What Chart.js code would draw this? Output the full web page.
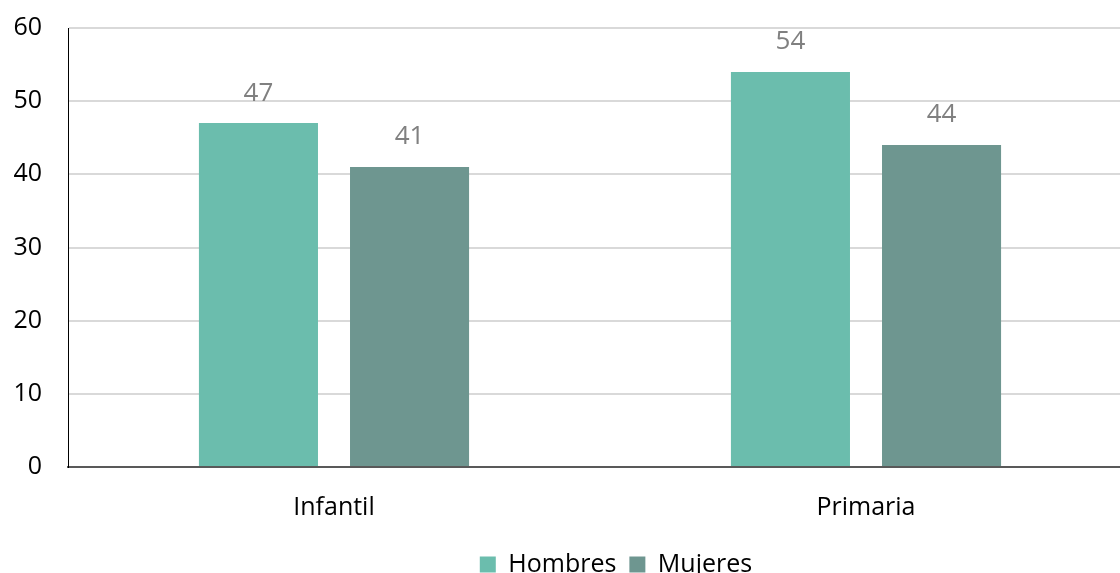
<!DOCTYPE html>
<html>
<head>
<meta charset="utf-8">
<script src="https://cdn.jsdelivr.net/npm/chart.js@4"></script>
<style>
  html, body { margin: 0; padding: 0; background: #fff; overflow: hidden; }
  #wrap { position: absolute; left: 0; top: -13px; width: 1132px; height: 600px; }
</style>
</head>
<body>
<div id="wrap"><canvas id="chart"></canvas></div>
<script>
const categories = ['Infantil', 'Primaria'];
const hombres = [47, 54];
const mujeres = [41, 44];
const yTicks = [0, 10, 20, 30, 40, 50, 60];

const FONT = '"Open Sans", sans-serif';

// value labels above each bar
const valueLabels = {
    id: 'valueLabels',
    afterDatasetsDraw(chart) {
        const c = chart.ctx;
        c.save();
        c.font = '26px ' + FONT;
        c.fillStyle = '#808080';
        c.textAlign = 'center';
        c.textBaseline = 'middle';
        chart.data.datasets.forEach((ds, i) => {
            chart.getDatasetMeta(i).data.forEach((bar, j) => {
                c.fillText(ds.data[j], bar.x, bar.y - 30);
            });
        });
        c.restore();
    }
};

// nudge legend right to sit where the original one does
const legendShift = {
    id: 'legendShift',
    afterLayout(chart) {
        chart.legend.left += 50;
        chart.legend.right += 50;
    }
};

new Chart(document.getElementById('chart'), {
    type: 'bar',
    data: {
        labels: categories,
        datasets: [
            { label: 'Hombres', data: hombres, backgroundColor: '#6bbdad' },
            { label: 'Mujeres', data: mujeres, backgroundColor: '#6e9690' }
        ]
    },
    options: {
        responsive: true,
        maintainAspectRatio: false,
        animation: false,
        categoryPercentage: 0.568,
        barPercentage: 0.788,
        layout: { padding: 0 },
        plugins: {
            tooltip: { enabled: false },
            legend: {
                position: 'bottom',
                labels: {
                    color: '#000',
                    font: { size: 25, family: FONT },
                    boxWidth: 16,
                    boxHeight: 16,
                    padding: 13
                }
            }
        },
        scales: {
            x: {
                grid: { display: false },
                border: { color: '#595959', width: 2 },
                ticks: { color: '#000', font: { size: 25, family: FONT }, padding: 18 },
                afterFit: (s) => { s.height = 72; }
            },
            y: {
                min: 0,
                max: 60,
                afterBuildTicks: (s) => { s.ticks = yTicks.map(v => ({ value: v })); },
                grid: { color: '#d9d9d9', lineWidth: 2, drawTicks: false },
                border: { color: '#000', width: 1 },
                ticks: { color: '#000', font: { size: 25, family: FONT }, padding: 26 },
                afterFit: (s) => { s.width = 68; }
            }
        }
    },
    plugins: [valueLabels, legendShift]
});
</script>
</body>
</html>
